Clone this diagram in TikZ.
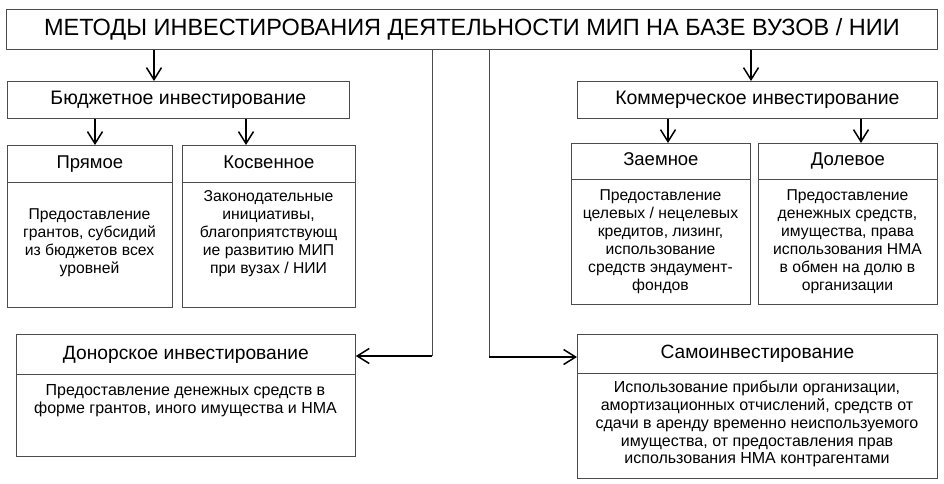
\documentclass[tikz,border=0pt]{standalone}
\usepackage{fontspec}
\setmainfont{Liberation Sans}
\usetikzlibrary{arrows.meta}
\begin{document}
\begin{tikzpicture}[x=1pt,y=-1pt,
  box/.style={draw=black!70, line width=0.8pt, rectangle, inner sep=0pt, anchor=north west},
  arr/.style={-{Straight Barb[length=12pt,width=15pt,line width=1.5pt]}, line width=1.6pt},
  conn/.style={draw=black!70, line width=0.8pt},
  hdr/.style={font=\fontsize{19.5}{22}\selectfont, text height=13.5pt, text depth=4pt},
  shdr/.style={font=\fontsize{18.5}{22}\selectfont, text height=13pt, text depth=4pt},
  nhdr/.style={font=\fontsize{19.2}{22}\selectfont, text height=13.5pt, text depth=4pt},
  bodytext/.style={font=\fontsize{15.7}{18}\selectfont, align=center, inner sep=0pt},
  nbodytext/.style={font=\fontsize{16}{17.8}\selectfont, align=center, inner sep=0pt}
]
\useasboundingbox[fill=white] (0,0) rectangle (944,483);

% title
\node[box, minimum width=931, minimum height=40, font=\fontsize{23.5}{26}\selectfont] (title) at (6,9)
  {МЕТОДЫ ИНВЕСТИРОВАНИЯ ДЕЯТЕЛЬНОСТИ МИП НА БАЗЕ ВУЗОВ / НИИ};

% level 2
\node[box, hdr, minimum width=342, minimum height=37] (bud) at (7,81) {Бюджетное инвестирование};
\node[box, hdr, minimum width=360, minimum height=37] (kom) at (577,81) {Коммерческое инвестирование};

% Прямое
\node[box, shdr, minimum width=165, minimum height=37] (prh) at (7,145) {Прямое};
\node[box, minimum width=165, minimum height=125] (prb) at (7,182) {};
\node[bodytext] (prt) at (89.5,243) {Предоставление\\грантов, субсидий\\из бюджетов всех\\уровней};

% Косвенное
\node[box, shdr, minimum width=173, minimum height=37] (kosh) at (182,145) {Косвенное};
\node[box, minimum width=173, minimum height=125] (kosb) at (182,182) {};
\node[bodytext] (kost) at (268.5,234) {Законодательные\\инициативы,\\благоприятствующ\\ие развитию МИП\\при вузах / НИИ};

% Заемное
\node[box, shdr, minimum width=179, minimum height=36] (zah) at (571,143) {Заемное};
\node[box, minimum width=179, minimum height=125] (zab) at (571,179) {};
\node[bodytext] (zat) at (660.5,241.5) {Предоставление\\целевых / нецелевых\\кредитов, лизинг,\\использование\\средств эндаумент-\\фондов};

% Долевое
\node[box, shdr, minimum width=179, minimum height=36] (doh) at (758,143) {Долевое};
\node[box, minimum width=179, minimum height=125] (dob) at (758,179) {};
\node[bodytext] (dot) at (847.5,241.5) {Предоставление\\денежных средств,\\имущества, права\\использования НМА\\в обмен на долю в\\организации};

% Донорское
\node[box, nhdr, minimum width=339, minimum height=40] (donh) at (16,334) {Донорское инвестирование};
\node[box, minimum width=339, minimum height=82] (donb) at (16,374) {};
\node[nbodytext] (dont) at (185.5,400.5) {Предоставление денежных средств в\\форме грантов, иного имущества и НМА};

% Самоинвестирование
\node[box, nhdr, minimum width=360, minimum height=39] (samh) at (577,334) {Самоинвестирование};
\node[box, minimum width=360, minimum height=105] (samb) at (577,373) {};
\node[nbodytext] (samt) at (757,424) {Использование прибыли организации,\\амортизационных отчислений, средств от\\сдачи в аренду временно неиспользуемого\\имущества, от предоставления прав\\использования НМА контрагентами};

% arrows
\draw[arr] ([xshift=148pt]title.south west) -- ([xshift=147pt]bud.north west);
\draw[arr] ([xshift=745pt]title.south west) -- ([xshift=174pt]kom.north west);
\draw[arr] ([xshift=88pt]bud.south west) -- ([xshift=88pt]prh.north west);
\draw[arr] ([xshift=239pt]bud.south west) -- ([xshift=64pt]kosh.north west);
\draw[arr] ([xshift=91pt]kom.south west) -- ([xshift=97pt]zah.north west);
\draw[arr] ([xshift=284pt]kom.south west) -- ([xshift=103pt]doh.north west);

\coordinate (dl) at (432,356);
\coordinate (dr) at (489,357);
\draw[conn] ([xshift=426pt]title.south west) -- (dl);
\draw[arr] (dl) -- (dl -| donh.east);
\draw[conn] ([xshift=483pt]title.south west) -- (dr);
\draw[arr] (dr) -- (dr -| samh.west);
\end{tikzpicture}
\end{document}
